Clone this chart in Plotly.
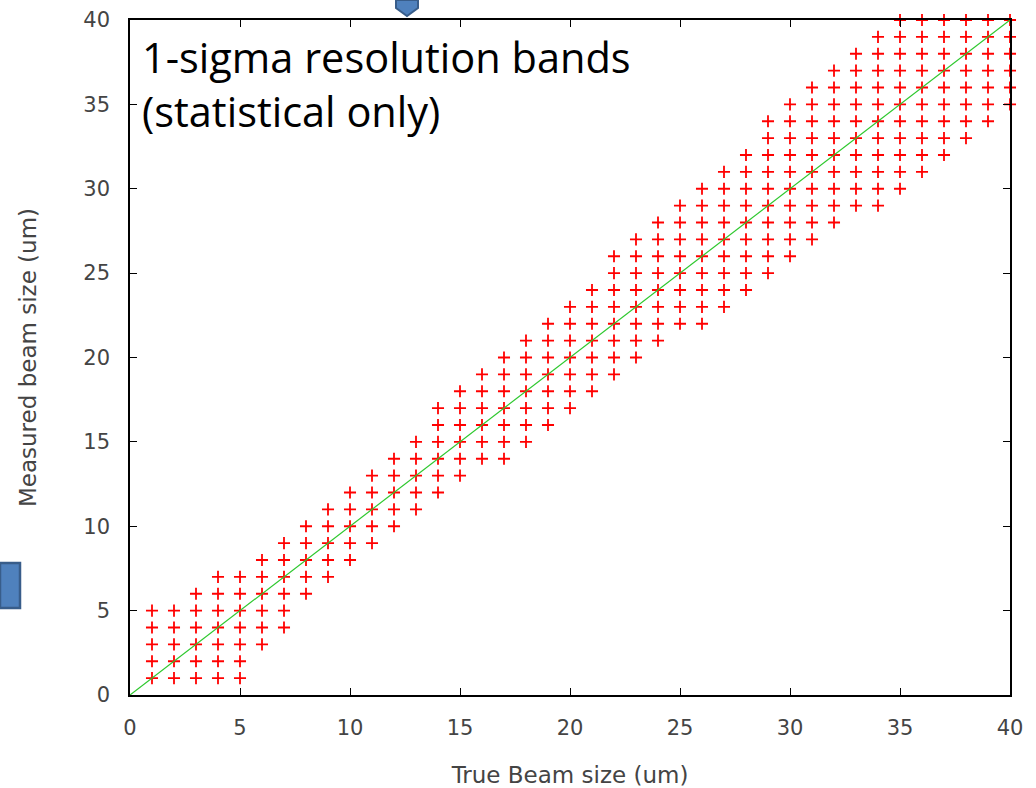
import plotly.graph_objects as go

# True beam size (x) for each column of markers
true_size = list(range(1, 41))

# Measured beam sizes shown for each true size (1-sigma band)
measured = [
    [1, 2, 3, 4, 5],
    [1, 2, 3, 4, 5],
    [1, 2, 3, 4, 5, 6],
    [1, 2, 3, 4, 5, 6, 7],
    [1, 2, 3, 4, 5, 6, 7],
    [3, 4, 5, 6, 7, 8],
    [4, 5, 6, 7, 8, 9],
    [6, 7, 8, 9, 10],
    [7, 8, 9, 10, 11],
    [8, 9, 10, 11, 12],
    [9, 10, 11, 12, 13],
    [10, 11, 12, 13, 14],
    [11, 12, 13, 14, 15],
    [12, 13, 14, 15, 16, 17],
    [13, 14, 15, 16, 17, 18],
    [14, 15, 16, 17, 18, 19],
    [14, 15, 16, 17, 18, 19, 20],
    [15, 16, 17, 18, 19, 20, 21],
    [16, 17, 18, 19, 20, 21, 22],
    [17, 18, 19, 20, 21, 22, 23],
    [18, 19, 20, 21, 22, 23, 24],
    [19, 20, 21, 22, 23, 24, 25, 26],
    [20, 21, 22, 23, 24, 25, 26, 27],
    [21, 22, 23, 24, 25, 26, 27, 28],
    [22, 23, 24, 25, 26, 27, 28, 29],
    [22, 23, 24, 25, 26, 27, 28, 29, 30],
    [23, 24, 25, 26, 27, 28, 29, 30, 31],
    [24, 25, 26, 27, 28, 29, 30, 31, 32],
    [25, 26, 27, 28, 29, 30, 31, 32, 33, 34],
    [26, 27, 28, 29, 30, 31, 32, 33, 34, 35],
    [27, 28, 29, 30, 31, 32, 33, 34, 35, 36],
    [28, 29, 30, 31, 32, 33, 34, 35, 36, 37],
    [29, 30, 31, 32, 33, 34, 35, 36, 37, 38],
    [29, 30, 31, 32, 33, 34, 35, 36, 37, 38, 39],
    [30, 31, 32, 33, 34, 35, 36, 37, 38, 39, 40],
    [31, 32, 33, 34, 35, 36, 37, 38, 39, 40],
    [32, 33, 34, 35, 36, 37, 38, 39, 40],
    [33, 34, 35, 36, 37, 38, 39, 40],
    [34, 35, 36, 37, 38, 39, 40],
    [35, 36, 37, 38, 39, 40],
]

# Ideal line: measured = true
ideal_x = [0, 40]
ideal_y = [0, 40]

tick_vals = [0, 5, 10, 15, 20, 25, 30, 35, 40]

pts_x, pts_y = [], []
for xv, ys in zip(true_size, measured):
    for yv in ys:
        pts_x.append(xv)
        pts_y.append(yv)

fig = go.Figure()
fig.add_trace(go.Scatter(
    x=pts_x, y=pts_y, mode="markers",
    marker=dict(symbol="cross-thin", size=8.6, line=dict(color="#ff0000", width=1.8)),
    cliponaxis=False, showlegend=False,
))
fig.add_trace(go.Scatter(
    x=ideal_x, y=ideal_y, mode="lines",
    line=dict(color="#2ec82e", width=1.2), showlegend=False,
))

FONT = "DejaVu Sans, Liberation Sans, sans-serif"
axis_common = dict(
    range=[0, 40], tickvals=tick_vals, ticks="inside", ticklen=7, tickwidth=1.2,
    tickcolor="#000000", showline=True, linecolor="#000000", linewidth=1.6,
    mirror="allticks", showgrid=False, zeroline=False, automargin=False,
    tickfont=dict(family=FONT, size=21, color="#444444"),
    title_font=dict(family=FONT, size=23, color="#444444"),
)

def py(pix):
    return (695 - pix) / 675

ANN_FONT = dict(family="Open Sans, Noto Sans, sans-serif", size=41.5, color="#000000")

fig.update_layout(
    width=1036, height=788,
    margin=dict(l=130, r=26, t=20, b=93),
    paper_bgcolor="white", plot_bgcolor="white",
    xaxis=dict(axis_common, ticklabelstandoff=13,
               title=dict(text="True Beam size (um)", standoff=50)),
    yaxis=dict(axis_common, ticklabelstandoff=14,
               title=dict(text="Measured beam size (um)", standoff=40)),
    annotations=[
        dict(x=(140 - 130) / 880, y=py(57), xref="paper", yref="paper",
             xanchor="left", yanchor="middle", text="1-sigma resolution bands",
             showarrow=False, align="left", font=ANN_FONT),
        dict(x=(140 - 130) / 880, y=py(111), xref="paper", yref="paper",
             xanchor="left", yanchor="middle", text="(statistical only)",
             showarrow=False, align="left", font=ANN_FONT),
    ],
    shapes=[
        dict(type="rect", xref="paper", yref="paper", x0=-130/880, x1=-110/880,
             y0=py(608), y1=py(563),
             fillcolor="#4f81bd", line=dict(color="#385d8a", width=2.5), layer="above"),
        dict(type="path", xref="paper", yref="paper",
             path="M {a},{t} L {b},{t} L {b},{m} L {c},{bot} L {a},{m} Z".format(
                 a=(396-130)/880, b=(418-130)/880, c=(407-130)/880,
                 t=py(0), m=py(8), bot=py(16)),
             fillcolor="#4f81bd", line=dict(color="#385d8a", width=2), layer="above"),
    ],
)

fig.write_html("out.html")
